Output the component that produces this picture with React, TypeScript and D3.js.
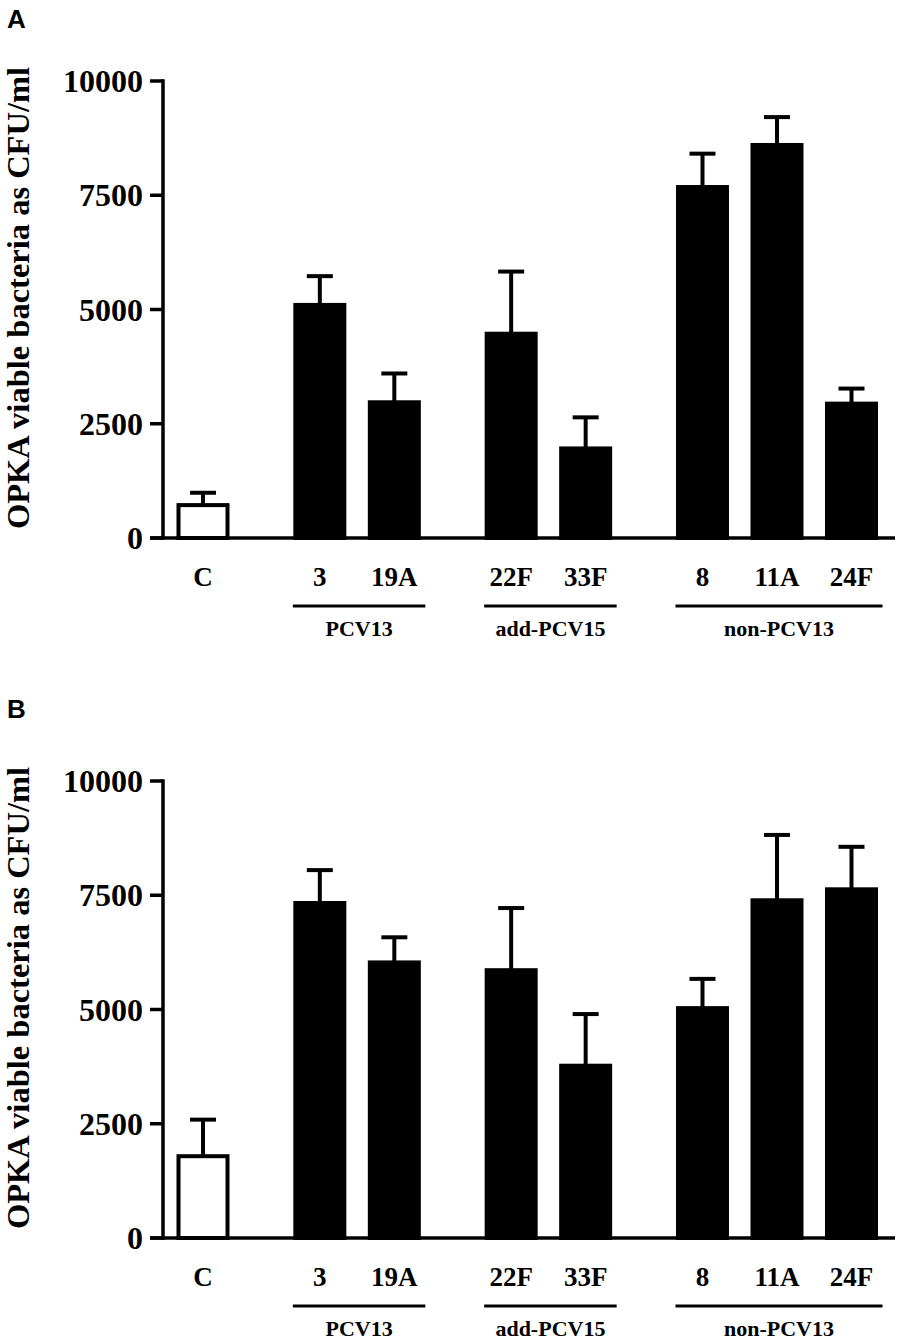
import React from 'react';
import * as d3 from 'd3';

// serotypes, in the order they are drawn
const categories = ['C', '3', '19A', '22F', '33F', '8', '11A', '24F'];
// which bracket each serotype belongs to (0 = control, no bracket)
const groupIndex = [0, 1, 1, 2, 2, 3, 3, 3];
const groupNames = ['', 'PCV13', 'add-PCV15', 'non-PCV13'];

// panel A: mean and upper error (SD)
const meansA = [720, 5100, 2970, 4470, 1960, 7680, 8600, 2940];
const errorsA = [270, 630, 630, 1360, 680, 730, 610, 330];

// panel B
const meansB = [1790, 7330, 6030, 5860, 3770, 5030, 7390, 7630];
const errorsB = [800, 720, 550, 1360, 1130, 640, 1430, 930];

const yTicks = [0, 2500, 5000, 7500, 10000];
const yLabel = 'OPKA viable bacteria as CFU/ml';

const SERIF = '"Liberation Serif", "Times New Roman", serif';
const SANS = '"Liberation Sans", Arial, sans-serif';

const GROUP_GAP = 0.568;
const positions = categories.map((_, i) => i + GROUP_GAP * groupIndex[i]);

const x = d3
    .scaleLinear()
    .domain([0, positions[positions.length - 1]])
    .range([203, 851.5]);

const BAR_W = 49;
const AXIS_X = 163;

interface PanelProps {
    letter: string;
    means: number[];
    errors: number[];
    offset: number;
}

const Panel: React.FC<PanelProps> = ({ letter, means, errors, offset }) => {
    const y = d3.scaleLinear().domain([0, 10000]).range([538 + offset, 81 + offset]);
    const y0 = y(0);

    return (
        <g>
            <text
                x={7}
                y={letter === 'A' ? 28 : 718}
                fontFamily={SANS}
                fontWeight="bold"
                fontSize={26}
            >
                {letter}
            </text>

            {/* y axis title */}
            <text
                transform={`translate(29, ${298 + offset}) rotate(-90)`}
                textAnchor="middle"
                fontFamily={SERIF}
                fontWeight="bold"
                fontSize={32.5}
            >
                {yLabel}
            </text>

            {/* bars */}
            {means.map((m, i) => (
                <rect
                    key={`bar-${i}`}
                    x={x(positions[i]) - BAR_W / 2}
                    y={y(m)}
                    width={BAR_W}
                    height={y0 - y(m)}
                    fill={i === 0 ? '#fff' : '#000'}
                    stroke="#000"
                    strokeWidth={4}
                />
            ))}

            {/* upper error bars */}
            {means.map((m, i) => {
                const cx = x(positions[i]);
                const top = y(m + errors[i]);
                return (
                    <g key={`err-${i}`} stroke="#000" strokeWidth={4}>
                        <line x1={cx} x2={cx} y1={y(m)} y2={top} />
                        <line x1={cx - 13} x2={cx + 13} y1={top} y2={top} />
                    </g>
                );
            })}

            {/* axes */}
            <line
                x1={AXIS_X}
                x2={AXIS_X}
                y1={y(10000) - 1.75}
                y2={y0 + 1.75}
                stroke="#000"
                strokeWidth={3.5}
            />
            <line x1={150} x2={895} y1={y0} y2={y0} stroke="#000" strokeWidth={3.5} />
            {yTicks.map((t) => (
                <g key={`tick-${t}`}>
                    <line x1={150} x2={AXIS_X} y1={y(t)} y2={y(t)} stroke="#000" strokeWidth={3.5} />
                    <text
                        x={143}
                        y={y(t)}
                        dy="0.35em"
                        textAnchor="end"
                        fontFamily={SERIF}
                        fontWeight="bold"
                        fontSize={32}
                    >
                        {t}
                    </text>
                </g>
            ))}

            {/* category labels */}
            {categories.map((c, i) => (
                <text
                    key={`cat-${c}`}
                    x={x(positions[i])}
                    y={586 + offset}
                    textAnchor="middle"
                    fontFamily={SERIF}
                    fontWeight="bold"
                    fontSize={27}
                >
                    {c}
                </text>
            ))}

            {/* group brackets */}
            {groupNames.map((name, g) => {
                if (!name) return null;
                const idx = categories.map((_, i) => i).filter((i) => groupIndex[i] === g);
                const first = x(positions[idx[0]]);
                const last = x(positions[idx[idx.length - 1]]);
                return (
                    <g key={`grp-${name}`}>
                        <line
                            x1={first - 27}
                            x2={last + 31}
                            y1={606 + offset}
                            y2={606 + offset}
                            stroke="#000"
                            strokeWidth={3}
                        />
                        <text
                            x={(first + last) / 2 + 2}
                            y={636 + offset}
                            textAnchor="middle"
                            fontFamily={SERIF}
                            fontWeight="bold"
                            fontSize={22}
                        >
                            {name}
                        </text>
                    </g>
                );
            })}
        </g>
    );
};

const App: React.FC = () => {
    return (
        <svg
            width={900}
            height={1342}
            style={{ position: 'absolute', left: 0, top: 0, background: '#fff' }}
        >
            <Panel letter="A" means={meansA} errors={errorsA} offset={0} />
            <Panel letter="B" means={meansB} errors={errorsB} offset={700} />
        </svg>
    );
};

export default App;
